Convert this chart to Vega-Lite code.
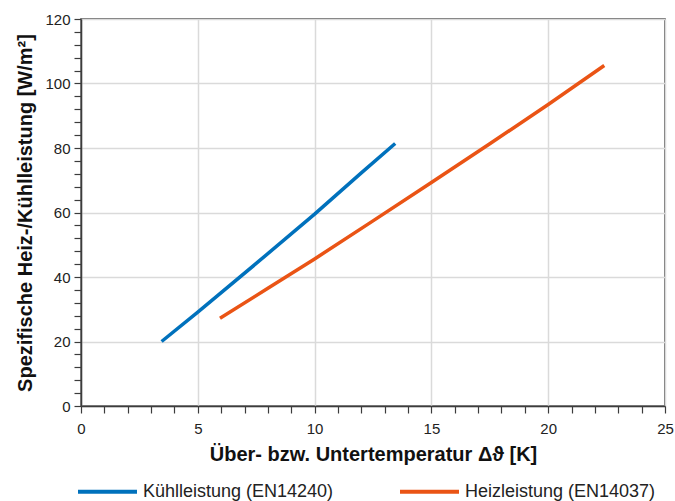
{
  "$schema": "https://vega.github.io/schema/vega-lite/v6.json",
  "width": 584,
  "height": 387,
  "autosize": {"type": "none"},
  "padding": {"left": 81, "top": 19, "right": 10, "bottom": 95},
  "config": {
    "font": "Liberation Sans",
    "view": {"stroke": "#3c3c3c", "strokeWidth": 1.5}
  },
  "data": {
    "values": [
      {"series": "Kühlleistung (EN14240)", "dt": 3.45, "q": 20.0},
      {"series": "Kühlleistung (EN14240)", "dt": 5.0, "q": 29.1},
      {"series": "Kühlleistung (EN14240)", "dt": 7.5, "q": 44.2},
      {"series": "Kühlleistung (EN14240)", "dt": 10.0, "q": 59.5},
      {"series": "Kühlleistung (EN14240)", "dt": 12.0, "q": 72.3},
      {"series": "Kühlleistung (EN14240)", "dt": 13.45, "q": 81.4},
      {"series": "Heizleistung (EN14037)", "dt": 5.95, "q": 27.2},
      {"series": "Heizleistung (EN14037)", "dt": 8.0, "q": 36.5},
      {"series": "Heizleistung (EN14037)", "dt": 10.0, "q": 45.6},
      {"series": "Heizleistung (EN14037)", "dt": 12.5, "q": 57.4},
      {"series": "Heizleistung (EN14037)", "dt": 15.0, "q": 69.3},
      {"series": "Heizleistung (EN14037)", "dt": 17.5, "q": 81.3},
      {"series": "Heizleistung (EN14037)", "dt": 20.0, "q": 93.5},
      {"series": "Heizleistung (EN14037)", "dt": 22.4, "q": 105.6}
    ]
  },
  "mark": {"type": "line", "strokeWidth": 3.5, "strokeCap": "butt"},
  "encoding": {
    "x": {
      "field": "dt",
      "type": "quantitative",
      "scale": {"domain": [0, 25], "nice": false, "zero": false},
      "axis": {
        "title": "Über- bzw. Untertemperatur Δϑ [K]",
        "values": [0,1,2,3,4,5,6,7,8,9,10,11,12,13,14,15,16,17,18,19,20,21,22,23,24,25],
        "labelExpr": "datum.value % 5 === 0 ? datum.label : ''",
        "labelFlush": false,
        "labelOverlap": false,
        "labelFontSize": 15,
        "labelColor": "#222222",
        "labelPadding": 8,
        "tickSize": 7,
        "tickColor": "#3c3c3c",
        "tickWidth": 1.2,
        "domainColor": "#3c3c3c",
        "domainWidth": 1.5,
        "grid": true,
        "gridColor": "#dadada",
        "gridWidth": 1.5,
        "gridOpacity": {"condition": {"test": "datum.value % 5 === 0", "value": 1}, "value": 0},
        "titleFontSize": 20,
        "titleFontWeight": "bold",
        "titleColor": "#111111",
        "titlePadding": 8
      }
    },
    "y": {
      "field": "q",
      "type": "quantitative",
      "scale": {"domain": [0, 120], "nice": false},
      "axis": {
        "title": "Spezifische Heiz-/Kühlleistung [W/m²]",
        "values": [0,4,8,12,16,20,24,28,32,36,40,44,48,52,56,60,64,68,72,76,80,84,88,92,96,100,104,108,112,116,120],
        "labelExpr": "datum.value % 20 === 0 ? datum.label : ''",
        "labelFlush": false,
        "labelOverlap": false,
        "labelFontSize": 15,
        "labelColor": "#222222",
        "labelPadding": 4,
        "tickSize": 7,
        "tickColor": "#3c3c3c",
        "tickWidth": 1.2,
        "domainColor": "#3c3c3c",
        "domainWidth": 1.5,
        "grid": true,
        "gridColor": "#dadada",
        "gridWidth": 1.5,
        "gridOpacity": {"condition": {"test": "datum.value % 20 === 0", "value": 1}, "value": 0},
        "titleFontSize": 20,
        "titleFontWeight": "bold",
        "titleColor": "#111111",
        "titlePadding": 9
      }
    },
    "color": {
      "field": "series",
      "type": "nominal",
      "scale": {
        "domain": ["Kühlleistung (EN14240)", "Heizleistung (EN14037)"],
        "range": ["#0071bc", "#ea5415"]
      },
      "legend": {
        "title": null,
        "orient": "none",
        "legendX": -5,
        "legendY": 441,
        "direction": "horizontal",
        "symbolType": "stroke",
        "symbolSize": 3481,
        "symbolStrokeWidth": 4,
        "labelFontSize": 18,
        "labelOffset": 4,
        "labelLimit": 400,
        "columnPadding": 58,
        "labelColor": "#222222"
      }
    }
  }
}
